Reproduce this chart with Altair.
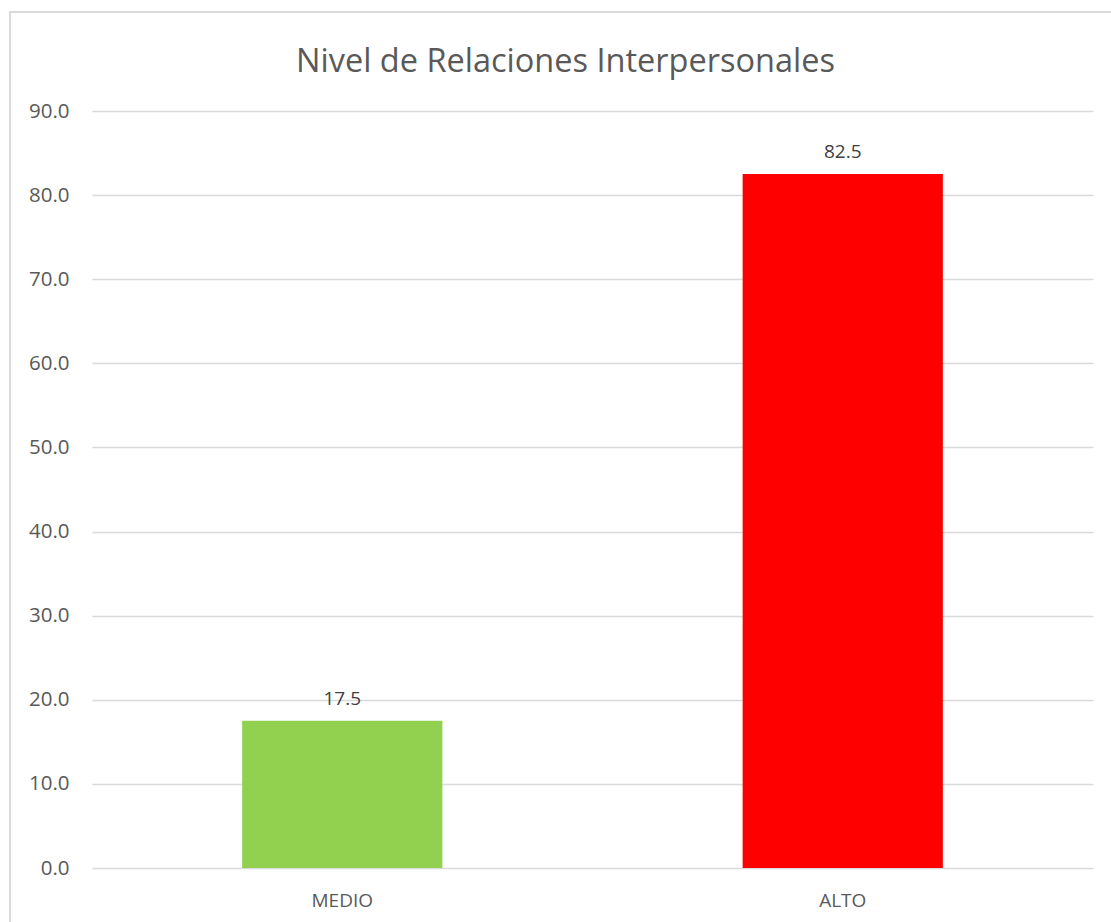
import altair as alt
import pandas as pd

categories = ["MEDIO", "ALTO"]
values = [17.5, 82.5]
colors = ["#92D050", "#FF0000"]
y_ticks = [0, 10, 20, 30, 40, 50, 60, 70, 80, 90]

df = pd.DataFrame({"nivel": categories, "valor": values})

FONT = "Open Sans"
TXT = "#595959"

x_enc = alt.X("nivel:N", sort=categories, title=None,
              scale=alt.Scale(paddingInner=0.6, paddingOuter=0.3),
              axis=alt.Axis(labelAngle=0, domain=False, ticks=False,
                            labelPadding=23, labelFontSize=19,
                            labelColor=TXT, labelFont=FONT))
y_enc = alt.Y("valor:Q", title=None,
              scale=alt.Scale(domain=[0, 90], nice=False),
              axis=alt.Axis(values=y_ticks, format=".1f", domain=False,
                            ticks=False, labelPadding=23, labelFontSize=20.5,
                            labelColor=TXT, labelFont=FONT,
                            grid=True, gridColor="#D9D9D9", gridWidth=1.5))

bars = alt.Chart(df).mark_bar().encode(
    x=x_enc, y=y_enc,
    color=alt.Color("nivel:N", scale=alt.Scale(domain=categories, range=colors),
                    legend=None),
)

labels = alt.Chart(df).mark_text(dy=-16, baseline="alphabetic", fontSize=19,
                                 font=FONT, color="#404040").encode(
    x=alt.X("nivel:N", sort=categories),
    y="valor:Q",
    text=alt.Text("valor:Q", format=".1f"),
)

border = alt.Chart(df).mark_rect(filled=False, stroke="#D9D9D9",
                                 strokeWidth=1.5).encode(
    x=alt.value(-82), x2=alt.value(1100),
    y=alt.value(-99), y2=alt.value(900),
)

chart = alt.layer(border, bars, labels).properties(
    width=1001, height=757,
    title=alt.TitleParams("Nivel de Relaciones Interpersonales",
                          font=FONT, fontSize=32.5, fontWeight="normal",
                          color=TXT, anchor="middle", dx=-27, offset=-93,
                          baseline="alphabetic"),
    autosize=alt.AutoSizeParams(type="none"),
    padding={"left": 92, "top": 111, "right": 18, "bottom": 54},
).configure(background="white").configure_view(strokeWidth=0)

chart.save("out.html", embed_options={"renderer": "svg", "actions": False})
